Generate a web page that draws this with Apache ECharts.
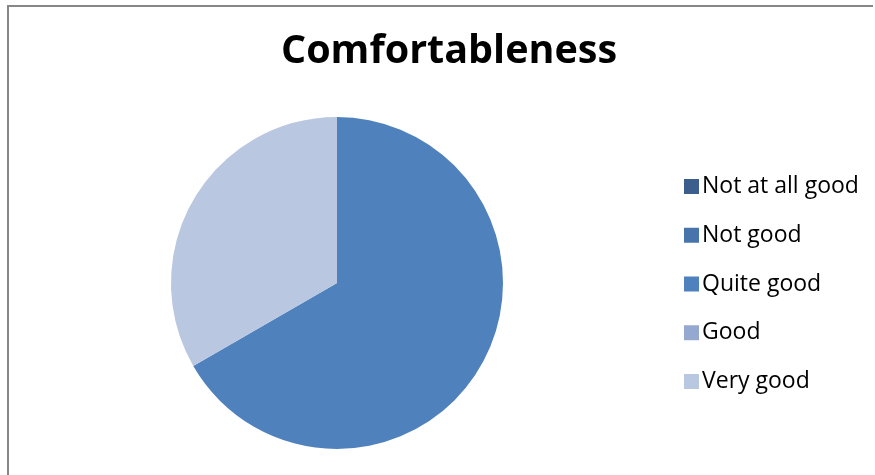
<!DOCTYPE html>
<html><head><meta charset="utf-8">
<script src="https://cdn.jsdelivr.net/npm/echarts@6/dist/echarts.min.js"></script>
<style>html,body{margin:0;padding:0;background:#fff;}#c{width:875px;height:475px;}</style>
</head><body><div id="c"></div>
<script>
const title = 'Comfortableness';
const categories = ['Not at all good', 'Not good', 'Quite good', 'Good', 'Very good'];
const values = [0, 0, 2, 0, 1];
const colors = ['#3B5E8C', '#4775AB', '#4F81BD', '#95A8CF', '#BAC7E0'];

const chart = echarts.init(document.getElementById('c'), null, {renderer: 'canvas'});
chart.setOption({
  animation: false,
  backgroundColor: '#fff',
  color: colors,
  title: {
    text: title, left: 444, top: 27, textAlign: 'center',
    textStyle: {fontFamily: 'Open Sans', fontWeight: 'bold', fontSize: 39.5, color: '#000'}
  },
  legend: {
    orient: 'vertical', left: 679, top: 170,
    itemWidth: 15, itemHeight: 15, itemGap: 25.75, icon: 'rect',
    data: categories,
    textStyle: {fontFamily: 'Open Sans', fontSize: 23, color: '#000', lineHeight: 22, padding: [0,0,0,-2]}
  },
  graphic: [{
    type: 'polyline', silent: true,
    shape: {points: [[8, 480], [8, 6], [873, 6]]},
    style: {stroke: '#878787', lineWidth: 2, fill: null}
  }],
  series: [{
    type: 'pie', center: [337, 283], radius: 166, startAngle: 90, clockwise: true,
    label: {show: false}, labelLine: {show: false},
    itemStyle: {borderWidth: 0},
    emphasis: {disabled: true},
    data: categories.map((c, i) => ({name: c, value: values[i]}))
  }]
});
</script></body></html>
